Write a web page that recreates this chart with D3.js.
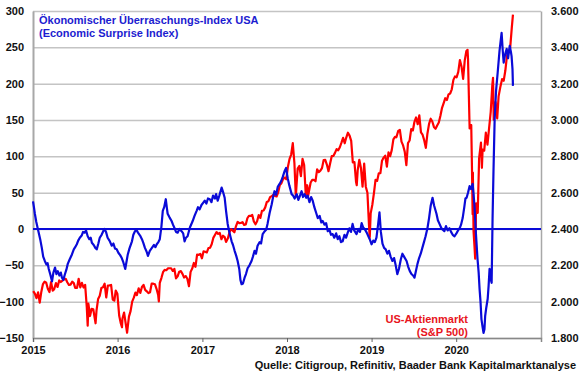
<!DOCTYPE html>
<html><head><meta charset="utf-8">
<script src="https://cdn.jsdelivr.net/npm/d3@7/dist/d3.min.js"></script>
<style>
html,body{margin:0;padding:0;background:#fff;}
svg{display:block;font-family:"Liberation Sans",Arial,sans-serif;}
</style></head>
<body><svg id="chart" width="580" height="375"></svg>
<script>
// ---- data ----
const leftTicks = [-150,-100,-50,0,50,100,150,200,250,300];
const rightTicks = [1800,2000,2200,2400,2600,2800,3000,3200,3400,3600];
const yearTicks = ["2015","2016","2017","2018","2019","2020"];

// Citi Economic Surprise Index USA (left axis)
const surpriseDates = [
"2015-01-01","2015-01-05","2015-01-09","2015-01-15","2015-01-22","2015-02-01","2015-02-08","2015-02-14","2015-02-21","2015-02-28","2015-03-05","2015-03-10","2015-03-17","2015-03-24","2015-03-30","2015-04-06","2015-04-12","2015-04-18","2015-04-25","2015-05-01","2015-05-06","2015-05-12","2015-05-18","2015-05-25","2015-05-31","2015-06-08","2015-06-18","2015-06-26","2015-07-02","2015-07-09","2015-07-15","2015-07-22","2015-07-30","2015-08-05","2015-08-12","2015-08-18","2015-08-25","2015-09-01","2015-09-07","2015-09-12","2015-09-20","2015-09-27","2015-10-03","2015-10-10","2015-10-16","2015-10-24","2015-10-31","2015-11-06","2015-11-12","2015-11-19","2015-11-27","2015-12-07","2015-12-14","2015-12-21","2015-12-28",
"2016-01-05","2016-01-12","2016-01-19","2016-01-26","2016-02-03","2016-02-09","2016-02-14","2016-02-21","2016-03-03","2016-03-09","2016-03-16","2016-03-22","2016-03-29","2016-04-07","2016-04-15","2016-04-21","2016-04-28","2016-05-05","2016-05-11","2016-05-19","2016-05-28","2016-06-06","2016-06-12","2016-06-18","2016-06-25","2016-07-01","2016-07-08","2016-07-14","2016-07-20","2016-07-27","2016-08-01","2016-08-04","2016-08-12","2016-08-21","2016-08-27","2016-09-03","2016-09-09","2016-09-16","2016-09-24","2016-10-03","2016-10-10","2016-10-16","2016-10-22","2016-10-29","2016-11-08","2016-11-20","2016-11-28","2016-12-07","2016-12-13","2016-12-20","2016-12-28",
"2017-01-04","2017-01-11","2017-01-18","2017-01-25","2017-02-02","2017-02-09","2017-02-16","2017-02-24","2017-03-01","2017-03-08","2017-03-15","2017-03-25","2017-04-01","2017-04-07","2017-04-13","2017-04-20","2017-04-27","2017-05-07","2017-05-13","2017-05-20","2017-05-27","2017-06-02","2017-06-09","2017-06-14","2017-06-19","2017-06-25","2017-07-02","2017-07-08","2017-07-15","2017-07-23","2017-08-01","2017-08-07","2017-08-14","2017-08-20","2017-08-27","2017-09-05","2017-09-11","2017-09-18","2017-09-27","2017-10-03","2017-10-09","2017-10-18","2017-10-27","2017-11-02","2017-11-08","2017-11-15","2017-11-22","2017-11-30","2017-12-07","2017-12-14","2017-12-22","2017-12-28",
"2018-01-04","2018-01-11","2018-01-21","2018-01-27","2018-02-03","2018-02-12","2018-02-19","2018-02-25","2018-03-05","2018-03-11","2018-03-18","2018-03-25","2018-03-31","2018-04-08","2018-04-15","2018-04-22","2018-04-29","2018-05-07","2018-05-14","2018-05-22","2018-05-29","2018-06-04","2018-06-12","2018-06-19","2018-06-26","2018-07-03","2018-07-10","2018-07-17","2018-07-24","2018-08-01","2018-08-08","2018-08-15","2018-08-22","2018-08-29","2018-09-06","2018-09-13","2018-09-20","2018-09-27","2018-10-04","2018-10-11","2018-10-18","2018-10-28","2018-11-05","2018-11-12","2018-11-19","2018-11-26","2018-12-04","2018-12-11","2018-12-18","2018-12-25",
"2019-01-01","2019-01-08","2019-01-15","2019-01-22","2019-01-29","2019-02-04","2019-02-10","2019-02-17","2019-02-24","2019-03-03","2019-03-10","2019-03-17","2019-03-24","2019-04-01","2019-04-08","2019-04-15","2019-04-22","2019-04-29","2019-05-07","2019-05-14","2019-05-21","2019-06-01","2019-06-08","2019-06-15","2019-06-22","2019-06-29","2019-07-05","2019-07-11","2019-07-18","2019-07-25","2019-08-01","2019-08-08","2019-08-15","2019-08-22","2019-08-30","2019-09-06","2019-09-13","2019-09-21","2019-09-28","2019-10-08","2019-10-14","2019-10-21","2019-10-28","2019-11-04","2019-11-11","2019-11-18","2019-11-25","2019-12-03","2019-12-10","2019-12-17","2019-12-25",
"2020-01-02","2020-01-09","2020-01-16","2020-01-22","2020-01-29","2020-02-05","2020-02-10","2020-02-15","2020-02-21","2020-02-28","2020-03-05","2020-03-12","2020-03-16","2020-03-20","2020-03-26","2020-04-02","2020-04-07","2020-04-11","2020-04-15","2020-04-19","2020-04-24","2020-04-28","2020-05-02","2020-05-05","2020-05-10","2020-05-16","2020-05-20","2020-05-24","2020-05-28","2020-06-02","2020-06-04","2020-06-06","2020-06-10","2020-06-15","2020-06-21","2020-06-28","2020-07-06","2020-07-15","2020-07-20","2020-07-24","2020-07-30","2020-08-06","2020-08-12","2020-08-19","2020-08-24","2020-08-27","2020-08-31","2020-09-02"];
const surpriseValues = [
38,30,21,10,0,-14,-26,-38,-44,-49,-47,-55,-63,-72,-60,-53,-62,-58,-64,-60,-67,-70,-63,-56,-48,-42,-35,-28,-25,-21,-16,-12,-9,-4,-5,-2,-10,-14,-12,-19,-22,-26,-28,-20,-12,-8,-3,0,-4,-12,-16,-23,-20,-27,-28,
-33,-36,-40,-46,-55,-44,-35,-27,-17,-8,-3,-1,-5,-9,-14,-19,-26,-31,-37,-30,-26,-22,-25,-21,-18,-14,3,25,30,41,28,21,16,11,6,1,-4,-5,0,-3,-6,-17,-12,-10,2,11,18,25,30,27,33,
36,39,35,42,41,37,46,42,48,39,46,57,50,43,25,7,-4,-17,-22,-30,-37,-44,-55,-70,-76,-75,-67,-62,-54,-50,-44,-38,-30,-34,-23,-18,-20,-7,-3,-1,7,22,34,44,52,47,58,62,66,72,80,84,
70,60,48,46,42,48,40,45,52,44,48,43,46,37,44,39,30,22,15,18,9,11,6,8,-3,-1,-8,-7,-12,-6,-14,-10,-18,-17,-8,-12,-5,1,-4,7,-2,-7,0,-4,8,2,-1,-5,-10,-15,
-21,-16,-18,-12,6,23,-4,-20,-26,-28,-34,-30,-38,-44,-40,-50,-62,-55,-42,-34,-38,-44,-52,-58,-62,-64,-67,-58,-48,-40,-34,-26,-18,-10,1,15,32,43,32,21,12,7,2,-1,-3,4,-2,1,-4,-8,-10,
-6,-2,1,6,15,30,42,43,50,59,55,62,48,32,-5,-41,-60,-83,-100,-124,-135,-143,-138,-120,-108,-96,-78,-55,-68,-74,-30,14,80,151,190,215,245,270,245,229,240,248,235,252,244,238,220,197];

// S&P 500 (right axis)
const spDates = [
"2015-01-02","2015-01-09","2015-01-16","2015-01-23","2015-01-30","2015-02-06","2015-02-13","2015-02-20","2015-02-27","2015-03-06","2015-03-13","2015-03-20","2015-03-27","2015-04-02","2015-04-10","2015-04-17","2015-04-24","2015-05-01","2015-05-08","2015-05-15","2015-05-22","2015-05-29","2015-06-05","2015-06-12","2015-06-19","2015-06-26","2015-07-02","2015-07-10","2015-07-17","2015-07-24","2015-07-31","2015-08-07","2015-08-14","2015-08-21","2015-08-25","2015-08-28","2015-09-04","2015-09-11","2015-09-18","2015-09-28","2015-10-02","2015-10-09","2015-10-16","2015-10-23","2015-10-30","2015-11-06","2015-11-13","2015-11-20","2015-11-27","2015-12-04","2015-12-11","2015-12-18","2015-12-24","2015-12-31",
"2016-01-08","2016-01-15","2016-01-20","2016-01-22","2016-01-29","2016-02-05","2016-02-11","2016-02-19","2016-02-26","2016-03-04","2016-03-11","2016-03-18","2016-03-24","2016-04-01","2016-04-08","2016-04-15","2016-04-22","2016-04-29","2016-05-06","2016-05-13","2016-05-20","2016-05-27","2016-06-03","2016-06-10","2016-06-17","2016-06-24","2016-06-27","2016-07-01","2016-07-08","2016-07-15","2016-07-22","2016-07-29","2016-08-05","2016-08-12","2016-08-19","2016-08-26","2016-09-02","2016-09-09","2016-09-16","2016-09-23","2016-09-30","2016-10-07","2016-10-14","2016-10-21","2016-10-28","2016-11-04","2016-11-11","2016-11-18","2016-11-25","2016-12-02","2016-12-09","2016-12-16","2016-12-23","2016-12-30",
"2017-01-06","2017-01-13","2017-01-20","2017-01-27","2017-02-03","2017-02-10","2017-02-17","2017-02-24","2017-03-03","2017-03-10","2017-03-17","2017-03-24","2017-03-31","2017-04-07","2017-04-13","2017-04-21","2017-04-28","2017-05-05","2017-05-12","2017-05-19","2017-05-26","2017-06-02","2017-06-09","2017-06-16","2017-06-23","2017-06-30","2017-07-07","2017-07-14","2017-07-21","2017-07-28","2017-08-04","2017-08-11","2017-08-18","2017-08-25","2017-09-01","2017-09-08","2017-09-15","2017-09-22","2017-09-29","2017-10-06","2017-10-13","2017-10-20","2017-10-27","2017-11-03","2017-11-10","2017-11-17","2017-11-24","2017-12-01","2017-12-08","2017-12-15","2017-12-22","2017-12-29",
"2018-01-05","2018-01-12","2018-01-19","2018-01-26","2018-02-02","2018-02-08","2018-02-16","2018-02-23","2018-03-02","2018-03-09","2018-03-16","2018-03-23","2018-03-29","2018-04-02","2018-04-13","2018-04-20","2018-04-27","2018-05-04","2018-05-11","2018-05-18","2018-05-25","2018-06-01","2018-06-08","2018-06-15","2018-06-22","2018-06-29","2018-07-06","2018-07-13","2018-07-20","2018-07-27","2018-08-03","2018-08-10","2018-08-17","2018-08-24","2018-08-31","2018-09-07","2018-09-14","2018-09-21","2018-09-28","2018-10-05","2018-10-12","2018-10-19","2018-10-26","2018-10-29","2018-11-02","2018-11-09","2018-11-16","2018-11-23","2018-11-30","2018-12-07","2018-12-14","2018-12-21","2018-12-24","2018-12-28",
"2019-01-04","2019-01-11","2019-01-18","2019-01-25","2019-02-01","2019-02-08","2019-02-15","2019-02-22","2019-03-01","2019-03-08","2019-03-15","2019-03-22","2019-03-29","2019-04-05","2019-04-12","2019-04-18","2019-04-26","2019-05-03","2019-05-10","2019-05-17","2019-05-24","2019-05-31","2019-06-07","2019-06-14","2019-06-21","2019-06-28","2019-07-05","2019-07-12","2019-07-19","2019-07-26","2019-08-02","2019-08-09","2019-08-16","2019-08-23","2019-08-30","2019-09-06","2019-09-13","2019-09-20","2019-09-27","2019-10-04","2019-10-11","2019-10-18","2019-10-25","2019-11-01","2019-11-08","2019-11-15","2019-11-22","2019-11-29","2019-12-06","2019-12-13","2019-12-20","2019-12-27",
"2020-01-03","2020-01-10","2020-01-17","2020-01-24","2020-01-31","2020-02-07","2020-02-14","2020-02-19","2020-02-21","2020-02-28","2020-03-06","2020-03-09","2020-03-12","2020-03-13","2020-03-16","2020-03-20","2020-03-23","2020-03-27","2020-04-03","2020-04-09","2020-04-17","2020-04-21","2020-04-24","2020-05-01","2020-05-08","2020-05-15","2020-05-22","2020-05-29","2020-06-05","2020-06-08","2020-06-11","2020-06-19","2020-06-26","2020-07-02","2020-07-10","2020-07-17","2020-07-24","2020-07-31","2020-08-07","2020-08-14","2020-08-21","2020-08-28","2020-09-02"];
const spValues = [
2058,2044,2019,2051,1995,2055,2097,2110,2104,2071,2053,2108,2061,2067,2102,2081,2117,2108,2116,2123,2126,2107,2092,2094,2110,2102,2076,2076,2126,2079,2104,2078,2092,1971,1868,1989,1921,1961,1958,1881,1951,2015,2033,2075,2079,2099,2023,2089,2090,2092,2012,2006,2061,2044,
1922,1880,1859,1907,1940,1880,1829,1918,1948,2000,2022,2050,2036,2073,2048,2081,2092,2065,2057,2047,2052,2099,2099,2096,2071,2037,2001,2103,2130,2162,2175,2173,2183,2184,2184,2169,2180,2128,2139,2165,2168,2153,2133,2141,2126,2085,2164,2182,2213,2192,2259,2258,2263,2239,
2277,2275,2271,2295,2297,2316,2351,2367,2383,2373,2378,2344,2363,2355,2329,2349,2384,2399,2391,2382,2416,2439,2432,2433,2438,2423,2425,2459,2473,2472,2477,2441,2426,2443,2477,2461,2500,2502,2519,2549,2553,2575,2581,2588,2582,2579,2602,2642,2652,2675,2683,2674,
2743,2786,2810,2873,2762,2581,2732,2747,2691,2786,2752,2588,2641,2582,2656,2670,2670,2663,2728,2713,2721,2735,2779,2780,2755,2718,2760,2801,2802,2819,2840,2833,2850,2875,2902,2872,2905,2930,2914,2885,2767,2768,2658,2641,2723,2781,2736,2633,2760,2633,2600,2417,2351,2486,
2532,2596,2671,2665,2707,2708,2776,2793,2804,2743,2822,2801,2834,2893,2907,2905,2940,2946,2881,2860,2826,2752,2873,2887,2950,2942,2990,3014,2977,3026,2932,2919,2889,2847,2926,2979,3007,2992,2962,2952,2970,2986,3023,3067,3093,3120,3110,3141,3146,3169,3221,3240,
3235,3265,3330,3295,3226,3328,3380,3386,3338,2954,2972,2747,2481,2711,2386,2305,2237,2541,2489,2790,2875,2737,2837,2831,2930,2864,2955,3044,3194,3232,3002,3098,3009,3130,3185,3225,3216,3271,3351,3373,3397,3508,3580];

// ---- chart ----
const svg = d3.select("#chart");
const L = 33, R = 541, T = 11, B = 338;
const tf = "Liberation Sans, Arial, sans-serif";
const parse = d3.timeParse("%Y-%m-%d");
const x = d3.scaleTime().domain([parse("2015-01-01"), parse("2021-01-01")]).range([L, R]);
const yL = d3.scaleLinear().domain([-150, 300]).range([B, T]);
const yR = d3.scaleLinear().domain([1800, 3600]).range([B, T]);
const de = d3.formatLocale({decimal:",", thousands:".", grouping:[3], currency:["","€"]});
const fmtR = de.format(",.0f");

// gridlines
svg.append("g").attr("transform", `translate(${L},0)`)
  .call(d3.axisRight(yL).tickValues(leftTicks).tickSize(R - L).tickFormat(""))
  .call(g => g.select(".domain").remove())
  .call(g => g.selectAll("line").attr("stroke", "#c4c4c4").attr("stroke-width", 1.5));

const styleText = g => g.selectAll("text").attr("font-size", 11).attr("font-weight", "bold").attr("fill", "#111").attr("font-family", tf);

// left axis
svg.append("g").attr("transform", `translate(${L},0)`)
  .call(d3.axisLeft(yL).tickValues(leftTicks).tickSize(0).tickPadding(9).tickFormat(d3.format("d")))
  .call(g => g.select(".domain").attr("stroke", "#a8a8a8").attr("stroke-width", 2))
  .call(styleText);

// right axis
svg.append("g").attr("transform", `translate(${R},0)`)
  .call(d3.axisRight(yR).tickValues(rightTicks).tickSize(0).tickPadding(10).tickFormat(fmtR))
  .call(g => g.select(".domain").attr("stroke", "#a8a8a8").attr("stroke-width", 1.5))
  .call(styleText);

// bottom axis
svg.append("g").attr("transform", `translate(0,${B})`)
  .call(d3.axisBottom(x).tickValues(yearTicks.map(y => parse(y + "-01-01"))).tickSize(4).tickPadding(4).tickFormat(d3.timeFormat("%Y")))
  .call(g => g.select(".domain").attr("stroke", "#888").attr("stroke-width", 1.5))
  .call(g => g.selectAll("line").attr("stroke", "#666"))
  .call(styleText);

// zero line
svg.append("line").attr("x1", L).attr("x2", R).attr("y1", yL(0)).attr("y2", yL(0))
  .attr("stroke", "#0a0ad8").attr("stroke-width", 2);

const spData = spDates.map((d, i) => ({d: parse(d), v: spValues[i]}));
const suData = surpriseDates.map((d, i) => ({d: parse(d), v: surpriseValues[i]}));

svg.append("path").datum(spData)
  .attr("fill", "none").attr("stroke", "#ff0000").attr("stroke-width", 2.2).attr("stroke-linejoin", "round")
  .attr("d", d3.line().x(p => x(p.d)).y(p => yR(p.v)));
svg.append("path").datum(suData)
  .attr("fill", "none").attr("stroke", "#0a0ad8").attr("stroke-width", 2.2).attr("stroke-linejoin", "round")
  .attr("d", d3.line().x(p => x(p.d)).y(p => yL(p.v)));

// texts
const addText = (tx, ty, anchor, color, s) => svg.append("text").attr("x", tx).attr("y", ty).attr("text-anchor", anchor)
  .attr("fill", color).attr("font-size", 11).attr("font-weight", "bold").attr("font-family", tf).text(s);
addText(39, 24, "start", "#1c1cd0", "Ökonomischer Überraschungs-Index USA");
addText(39, 37, "start", "#1c1cd0", "(Economic Surprise Index)");
addText(468, 323, "end", "#e8141c", "US-Aktienmarkt");
addText(468, 336, "end", "#e8141c", "(S&P 500)");
addText(576, 369, "end", "#111", "Quelle: Citigroup, Refinitiv, Baader Bank Kapitalmarktanalyse");
</script></body></html>
